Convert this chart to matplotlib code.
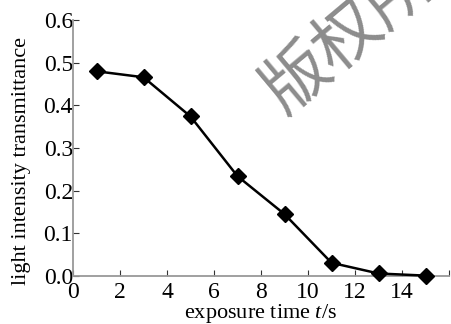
import matplotlib
matplotlib.use("Agg")
import matplotlib.pyplot as plt

# data
exposure_time = [1, 3, 5, 7, 9, 11, 13, 15]
transmittance = [0.480, 0.466, 0.374, 0.234, 0.145, 0.031, 0.006, 0.001]
x_ticks = [0, 2, 4, 6, 8, 10, 12, 14, 16]
y_ticks = [0.0, 0.1, 0.2, 0.3, 0.4, 0.5, 0.6]

plt.rcParams["font.family"] = ["Liberation Serif", "DejaVu Serif"]
plt.rcParams["mathtext.fontset"] = "custom"
plt.rcParams["mathtext.it"] = "Liberation Serif:italic"
plt.rcParams["mathtext.rm"] = "Liberation Serif"

fig = plt.figure(figsize=(4.52, 3.24), dpi=100)
ax = fig.add_axes([0.1615, 0.148, 0.832, 0.79])

# watermark behind the plot
fig.text(0.602, 0.69, "版权所有", fontsize=48, color="#8c8c8c",
         family=["Noto Sans CJK SC"], fontweight="light",
         rotation=40, rotation_mode="anchor", ha="left", va="center",
         zorder=0)
ax.patch.set_alpha(0)

ax.plot(exposure_time, transmittance, color="black", lw=1.8,
        marker="D", markersize=8, markerfacecolor="black",
        markeredgecolor="black", clip_on=False, zorder=3)

ax.set_xlim(0, 16)
ax.set_ylim(0, 0.6)
ax.set_xticks(x_ticks)
ax.set_xticklabels([str(t) if t < 16 else "" for t in x_ticks])
ax.set_yticks(y_ticks)
ax.set_yticklabels([f"{v:.1f}" for v in y_ticks])

for side in ("top", "right"):
    ax.spines[side].set_visible(False)
for side in ("left", "bottom"):
    ax.spines[side].set_color("#999999")
    ax.spines[side].set_linewidth(1.3)

ax.tick_params(direction="in", length=4, width=0.8, color="#333333",
               labelsize=17, pad=0)
ax.tick_params(axis="x", pad=4)

ax.set_xlabel("exposure time $t$/s", fontsize=16)
ax.xaxis.set_label_coords(0.5, -0.1)
ax.set_ylabel("light intensity transmittance", fontsize=16)
ax.yaxis.set_label_coords(-0.112, 0.45)

fig.savefig("out.png", dpi=100)
